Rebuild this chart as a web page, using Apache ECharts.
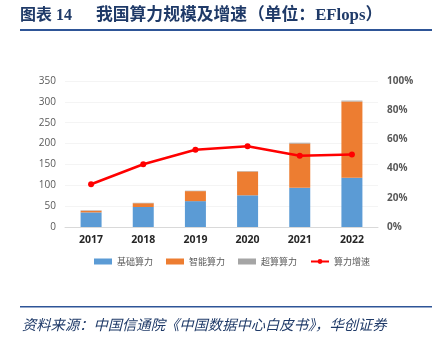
<!DOCTYPE html>
<html><head><meta charset="utf-8">
<script src="https://cdn.jsdelivr.net/npm/echarts@6/dist/echarts.min.js"></script>
<style>html,body{margin:0;padding:0;background:#fff}#c{width:440px;height:339px}</style>
</head><body><div id="c"></div>
<script>
const categories = ['2017','2018','2019','2020','2021','2022'];
const basic = [35, 48, 62, 76, 94, 118];
const intelligent = [4, 9, 24, 57, 106, 183];
const supercomp = [1, 1, 1, 1, 2, 2];
const growth = [0.293, 0.43, 0.529, 0.553, 0.488, 0.497];
const seriesNames = ['基础算力','智能算力','超算算力','算力增速'];
const leftTicks = {min:0, max:350, interval:50};
const rightTicks = {min:0, max:1, interval:0.2};

const chart = echarts.init(document.getElementById('c'), null, {renderer:'canvas'});
const cjk = '"Noto Sans CJK SC", sans-serif';
chart.setOption({
  animation:false,
  backgroundColor:'#fff',
  graphic:[
    {type:'text', left:20, top:8, style:{text:'图表 14', font:'bold 16px "Liberation Serif", "Noto Sans CJK SC"', fill:'#1f3a68'}},
    {type:'text', left:96, top:7, style:{text:'我国算力规模及增速', font:'bold 16.8px "Liberation Serif", "Noto Sans CJK SC"', fill:'#1f3a68'}},
    {type:'text', left:248, top:7, style:{text:'（单位：EFlops）', font:'bold 16.8px "Liberation Serif", "Noto Sans CJK SC"', fill:'#1f3a68'}},
    {type:'rect', shape:{x:20, y:29, width:412, height:2}, style:{fill:'#2e5597'}},
    {type:'rect', shape:{x:20, y:306, width:412, height:1.5}, style:{fill:'#2e5597'}},
    {type:'text', left:22, top:317, style:{text:'资料来源：中国信通院《中国数据中心白皮书》，华创证券', font:'italic 14.3px "Noto Sans CJK SC"', fill:'#1f3a68'}}
  ],
  grid:{left:65, right:62, top:81, bottom:112},
  legend:{
    left:94, top:257, padding:0, itemWidth:18, itemHeight:6, itemGap:13,
    textStyle:{fontSize:9, color:'#595959', fontFamily:cjk},
    data:[{name:seriesNames[0], icon:'rect'},{name:seriesNames[1], icon:'rect'},{name:seriesNames[2], icon:'rect'},{name:seriesNames[3]}]
  },
  xAxis:{
    type:'category', data:categories,
    axisLine:{lineStyle:{color:'#d9d9d9'}}, axisTick:{show:false},
    axisLabel:{fontSize:10.5, fontWeight:'bold', color:'#262626', margin:8, fontFamily:'"Open Sans", sans-serif'}
  },
  yAxis:[
    {type:'value', min:leftTicks.min, max:leftTicks.max, interval:leftTicks.interval,
     axisLabel:{fontSize:10, color:'#595959', margin:9, fontFamily:'"Open Sans", sans-serif'},
     splitLine:{lineStyle:{color:'#f4f4f4'}}, axisLine:{show:false}, axisTick:{show:false}},
    {type:'value', min:rightTicks.min, max:rightTicks.max, interval:rightTicks.interval,
     axisLabel:{fontSize:10, color:'#595959', margin:9, fontWeight:'bold', fontFamily:'"Open Sans", sans-serif',
       formatter:v=>Math.round(v*100)+'%'},
     splitLine:{show:false}, axisLine:{show:false}, axisTick:{show:false}}
  ],
  series:[
    {name:seriesNames[0], type:'bar', stack:'t', data:basic, barWidth:21, itemStyle:{color:'#5b9bd5'}},
    {name:seriesNames[1], type:'bar', stack:'t', data:intelligent, itemStyle:{color:'#ed7d31'}},
    {name:seriesNames[2], type:'bar', stack:'t', data:supercomp, itemStyle:{color:'#a5a5a5'}},
    {name:seriesNames[3], type:'line', yAxisIndex:1, data:growth, symbol:'circle', symbolSize:6,
     lineStyle:{color:'#ff0000', width:2.5}, itemStyle:{color:'#ff0000'}}
  ]
});
</script></body></html>
